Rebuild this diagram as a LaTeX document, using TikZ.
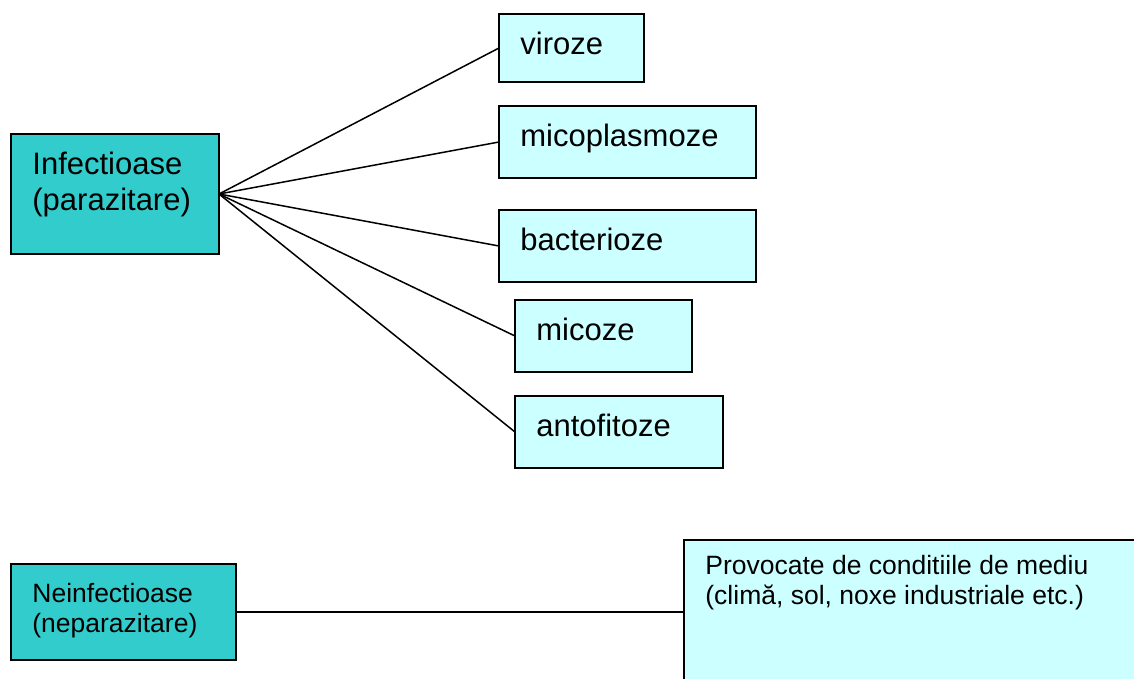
\documentclass[tikz,border=0pt]{standalone}
\usepackage{fontspec}
\setmainfont{Liberation Sans}
\definecolor{tealbox}{HTML}{33CCCC}
\definecolor{palebox}{HTML}{CCFFFF}
\begin{document}
\begin{tikzpicture}[x=0.5pt,y=-0.5pt,
  box/.style={draw=black, line width=1pt, anchor=north west, inner sep=0pt, outer sep=0pt},
  bigtxt/.style={anchor=north west, inner sep=0pt, xshift=10.5pt, yshift=-9pt, align=left, font=\fontsize{15.5}{18}\selectfont},
  smalltxt/.style={anchor=north west, inner sep=0pt, xshift=10.5pt, yshift=-9.5pt, align=left, font=\fontsize{13.25}{15}\selectfont},
  leg/.style={line width=0.75pt}]
\clip (0,0) rectangle (1134,679);
% infectioase
\node[box, fill=tealbox, minimum width=104pt, minimum height=60pt,
  label={[bigtxt]north west:Infectioase\\(parazitare)}] (inf) at (11,134) {};
\node[box, fill=palebox, minimum width=72.5pt, minimum height=34pt,
  label={[bigtxt]north west:viroze}] (vir) at (499,14) {};
\node[box, fill=palebox, minimum width=128.5pt, minimum height=36pt,
  label={[bigtxt]north west:micoplasmoze}] (micop) at (499,106) {};
\node[box, fill=palebox, minimum width=128.5pt, minimum height=36pt,
  label={[bigtxt]north west:bacterioze}] (bact) at (499,210) {};
\node[box, fill=palebox, minimum width=88.5pt, minimum height=36pt,
  label={[bigtxt]north west:micoze}] (micoz) at (515,300) {};
\node[box, fill=palebox, minimum width=104pt, minimum height=36pt,
  label={[bigtxt]north west:antofitoze}] (anto) at (515,396) {};
\foreach \n in {vir,micop,bact,micoz,anto}
  \draw[leg] (inf.east) -- (\n.west);
% neinfectioase
\node[box, fill=tealbox, minimum width=112.5pt, minimum height=48pt,
  label={[smalltxt]north west:Neinfectioase\\(neparazitare)}] (neinf) at (11,564) {};
\node[box, fill=palebox, minimum width=250pt, minimum height=72pt,
  label={[smalltxt,yshift=2pt]north west:Provocate de conditiile de mediu\\(climă, sol, noxe industriale etc.)}] (prov) at (684,540) {};
\draw[leg] (neinf.east) -- (prov.west);
\end{tikzpicture}
\end{document}
